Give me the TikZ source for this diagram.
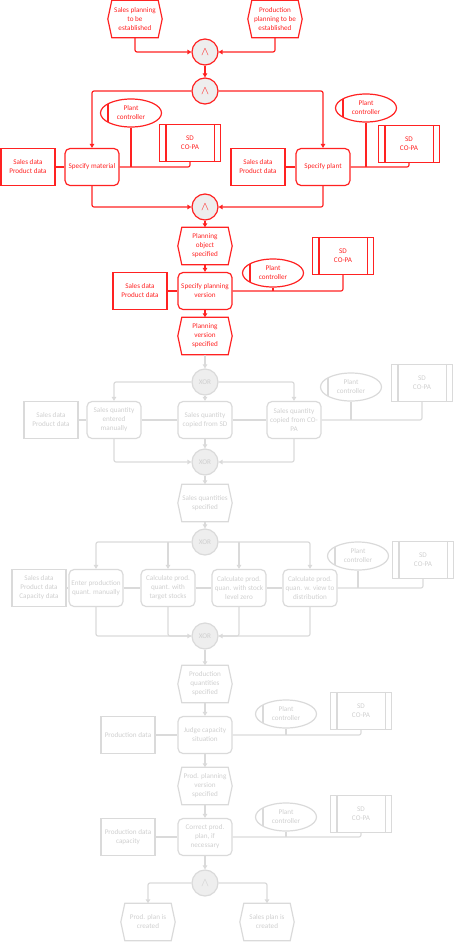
\documentclass[tikz,border=0pt]{standalone}
\usepackage{fontspec}
\setmainfont{Carlito}
\usetikzlibrary{shapes.geometric,arrows.meta,calc}
\definecolor{rc}{HTML}{FF2222}
\definecolor{gc}{HTML}{DADADA}
\definecolor{gt}{HTML}{CFCFCF}
\definecolor{cf}{HTML}{EEEEEE}
\tikzset{
 base/.style={font=\fontsize{7.2}{9}\selectfont, align=center, inner sep=0pt},
 R/.style={draw=rc, text=rc},
 G/.style={draw=gc, text=gt},
 func/.style={base, rectangle, rounded corners=5bp, minimum width=54bp, minimum height=37bp, line width=1.2bp},
 datab/.style={base, rectangle, minimum width=54bp, minimum height=37bp, line width=1.2bp},
 evt/.style={base, rectangle, minimum width=54bp, minimum height=37bp},
 conn/.style={base, circle, minimum size=26bp, fill=cf, line width=1.2bp},
 org/.style={base, ellipse, minimum width=61bp, minimum height=28bp, line width=1.2bp},
 sys/.style={base, rectangle, minimum width=61bp, minimum height=37bp, line width=1.2bp},
 ln/.style={line width=1.2bp, rounded corners=2bp},
 arr/.style={ln, -{Triangle[width=4.5bp,length=4bp]}},
}
\newcommand\hexev[2]{\draw[line width=1.2bp, draw=#2] (#1.west) -- ([xshift=4bp]#1.north west) -- ([xshift=-4bp]#1.north east) -- (#1.east) -- ([xshift=-4bp]#1.south east) -- ([xshift=4bp]#1.south west) -- cycle;}
\newcommand\orgbar[2]{\draw[line width=1.2bp, draw=#2] ([xshift=8bp,yshift=9bp]#1.west) -- ([xshift=8bp,yshift=-9bp]#1.west);}
\newcommand\sysbars[2]{\draw[line width=1.2bp, draw=#2] ([xshift=7bp]#1.north west) -- ([xshift=7bp]#1.south west) ([xshift=-7bp]#1.north east) -- ([xshift=-7bp]#1.south east);}
\begin{document}
\begin{tikzpicture}[x=1bp,y=-1bp]
\useasboundingbox (0,0) rectangle (454,942);
% ---------------- red part ----------------
\node[evt,text=rc] (e1) at (135,19) {Sales planning\\to be\\established};
\node[evt,text=rc] (e2) at (275,19) {Production\\planning to be\\established};
\node[conn,R] (a1) at (205,52) {\large$\wedge$};
\node[conn,R] (a2) at (205,91) {\large$\wedge$};
\node[func,R] (f1) at (92,167) {Specify material};
\node[datab,R] (d1) at (28,167) {Sales data\\Product data};
\node[org,R] (o1) at (131,113) {Plant\\controller};
\node[sys,R] (s1) at (190,143) {SD\\CO-PA};
\node[func,R] (f2) at (323,167) {Specify plant};
\node[datab,R] (d2) at (258,167) {Sales data\\Product data};
\node[org,R] (o2) at (366,108) {Plant\\controller};
\node[sys,R] (s2) at (409,144) {SD\\CO-PA};
\node[conn,R] (a3) at (205,207) {\large$\wedge$};
\node[evt,text=rc] (e3) at (205,246) {Planning\\object\\specified};
\node[func,R] (f3) at (205,291) {Specify planning\\version};
\node[datab,R] (d3) at (140,291) {Sales data\\Product data};
\node[org,R] (o3) at (273,273) {Plant\\controller};
\node[sys,R] (s3) at (343,256) {SD\\CO-PA};
\node[evt,text=rc] (e4) at (205,336) {Planning\\version\\specified};
\foreach \n in {e1,e2,e3,e4} {\hexev{\n}{rc}}
\foreach \n in {o1,o2,o3} {\orgbar{\n}{rc}}
\foreach \n in {s1,s2,s3} {\sysbars{\n}{rc}}
\begin{scope}[draw=rc]
\draw[arr] (e1.south) |- (a1.west);
\draw[arr] (e2.south) |- (a1.east);
\draw[arr] (a1.south) -- (a2.north);
\draw[arr] (a2.west) -| (f1.north);
\draw[arr] (a2.east) -| (f2.north);
\draw[ln] (d1.east) -- (f1.west);
\draw[ln] (f1.east) -| (s1.south);
\draw[ln] (o1.south) -- (o1.south |- f1.east);
\draw[ln] (d2.east) -- (f2.west);
\draw[ln] (f2.east) -| (s2.south);
\draw[ln] (o2.south) -- (o2.south |- f2.east);
\draw[arr] (f1.south) |- (a3.west);
\draw[arr] (f2.south) |- (a3.east);
\draw[arr] (a3.south) -- (e3.north);
\draw[arr] (e3.south) -- (f3.north);
\draw[arr] (f3.south) -- (e4.north);
\draw[ln] (d3.east) -- (f3.west);
\draw[ln] (f3.east) -| (s3.south);
\draw[ln] (o3.south) -- (o3.south |- f3.east);
\end{scope}
% ---------------- grey part ----------------
\node[conn,G] (x1) at (205,382) {XOR};
\node[func,G] (f4) at (114,420) {Sales quantity\\entered\\manually};
\node[func,G] (f5) at (205,420) {Sales quantity\\copied from SD};
\node[func,G] (f6) at (294,420) {Sales quantity\\copied from CO-\\PA};
\node[datab,G] (d4) at (51,420) {Sales data\\Product data};
\node[org,G] (o4) at (351,387) {Plant\\controller};
\node[sys,G] (s4) at (422,383) {SD\\CO-PA};
\node[conn,G] (x2) at (205,462) {XOR};
\node[evt,text=gt] (e5) at (205,503) {Sales quantities\\specified};
\node[conn,G] (x3) at (205,542) {XOR};
\node[func,G] (f7) at (96,588) {Enter production\\quant. manually};
\node[func,G] (f8) at (168,588) {Calculate prod.\\quant. with\\target stocks};
\node[func,G] (f9) at (239,588) {Calculate prod.\\quan. with stock\\level zero};
\node[func,G] (f10) at (310,588) {Calculate prod.\\quan. w. view to\\distribution};
\node[datab,G] (d5) at (39,588) {Sales data\\Product data\\Capacity data};
\node[org,G] (o5) at (358,556) {Plant\\controller};
\node[sys,G] (s5) at (423,560) {SD\\CO-PA};
\node[conn,G] (x4) at (205,636) {XOR};
\node[evt,text=gt] (e6) at (205,684) {Production\\quantities\\specified};
\node[func,G] (f11) at (205,735) {Judge capacity\\situation};
\node[datab,G] (d6) at (128,735) {Production data};
\node[org,G] (o6) at (286,714) {Plant\\controller};
\node[sys,G] (s6) at (361,711) {SD\\CO-PA};
\node[evt,text=gt] (e7) at (205,786) {Prod. planning\\version\\specified};
\node[func,G] (f12) at (205,837) {Correct prod.\\plan, if\\necessary};
\node[datab,G] (d7) at (128,837) {Production data\\capacity};
\node[org,G] (o7) at (286,817) {Plant\\controller};
\node[sys,G] (s7) at (361,814) {SD\\CO-PA};
\node[conn,G] (a4) at (205,883) {\large$\wedge$};
\node[evt,text=gt] (e8) at (148,922) {Prod. plan is\\created};
\node[evt,text=gt] (e9) at (267,922) {Sales plan is\\created};
\foreach \n in {e5,e6,e7,e8,e9} {\hexev{\n}{gc}}
\foreach \n in {o4,o5,o6,o7} {\orgbar{\n}{gc}}
\foreach \n in {s4,s5,s6,s7} {\sysbars{\n}{gc}}
\begin{scope}[draw=gc,fill=gc]
\draw[arr] (e4.south) -- (x1.north);
\draw[arr] (x1.west) -| (f4.north);
\draw[arr] (x1.south) -- (f5.north);
\draw[arr] (x1.east) -| (f6.north);
\draw[ln] (d4.east) -- (f4.west);
\draw[ln] (f4.east) -- (f5.west);
\draw[ln] (f5.east) -- (f6.west);
\draw[ln] (f6.east) -| (s4.south);
\draw[ln] (o4.south) -- (o4.south |- f6.east);
\draw[arr] (f4.south) |- (x2.west);
\draw[arr] (f5.south) -- (x2.north);
\draw[arr] (f6.south) |- (x2.east);
\draw[arr] (x2.south) -- (e5.north);
\draw[arr] (e5.south) -- (x3.north);
\draw[arr] (x3.west) -| (f7.north);
\draw[arr] (x3.east) -| (f10.north);
\draw[arr] (f8.north |- x3.west) -- (f8.north);
\draw[arr] (f9.north |- x3.east) -- (f9.north);
\draw[ln] (d5.east) -- (f7.west);
\draw[ln] (f7.east) -- (f8.west);
\draw[ln] (f8.east) -- (f9.west);
\draw[ln] (f9.east) -- (f10.west);
\draw[ln] (f10.east) -| (s5.south);
\draw[ln] (o5.south) -- (o5.south |- f10.east);
\draw[arr] (f7.south) |- (x4.west);
\draw[arr] (f10.south) |- (x4.east);
\draw[ln] (f8.south) |- (x4.west);
\draw[ln] (f9.south) |- (x4.east);
\draw[arr] (x4.south) -- (e6.north);
\draw[arr] (e6.south) -- (f11.north);
\draw[arr] (f11.south) -- (e7.north);
\draw[arr] (e7.south) -- (f12.north);
\draw[arr] (f12.south) -- (a4.north);
\draw[ln] (d6.east) -- (f11.west);
\draw[ln] (f11.east) -| (s6.south);
\draw[ln] (o6.south) -- (o6.south |- f11.east);
\draw[ln] (d7.east) -- (f12.west);
\draw[ln] (f12.east) -| (s7.south);
\draw[ln] (o7.south) -- (o7.south |- f12.east);
\draw[arr] (a4.west) -| (e8.north);
\draw[arr] (a4.east) -| (e9.north);
\end{scope}
\end{tikzpicture}
\end{document}
